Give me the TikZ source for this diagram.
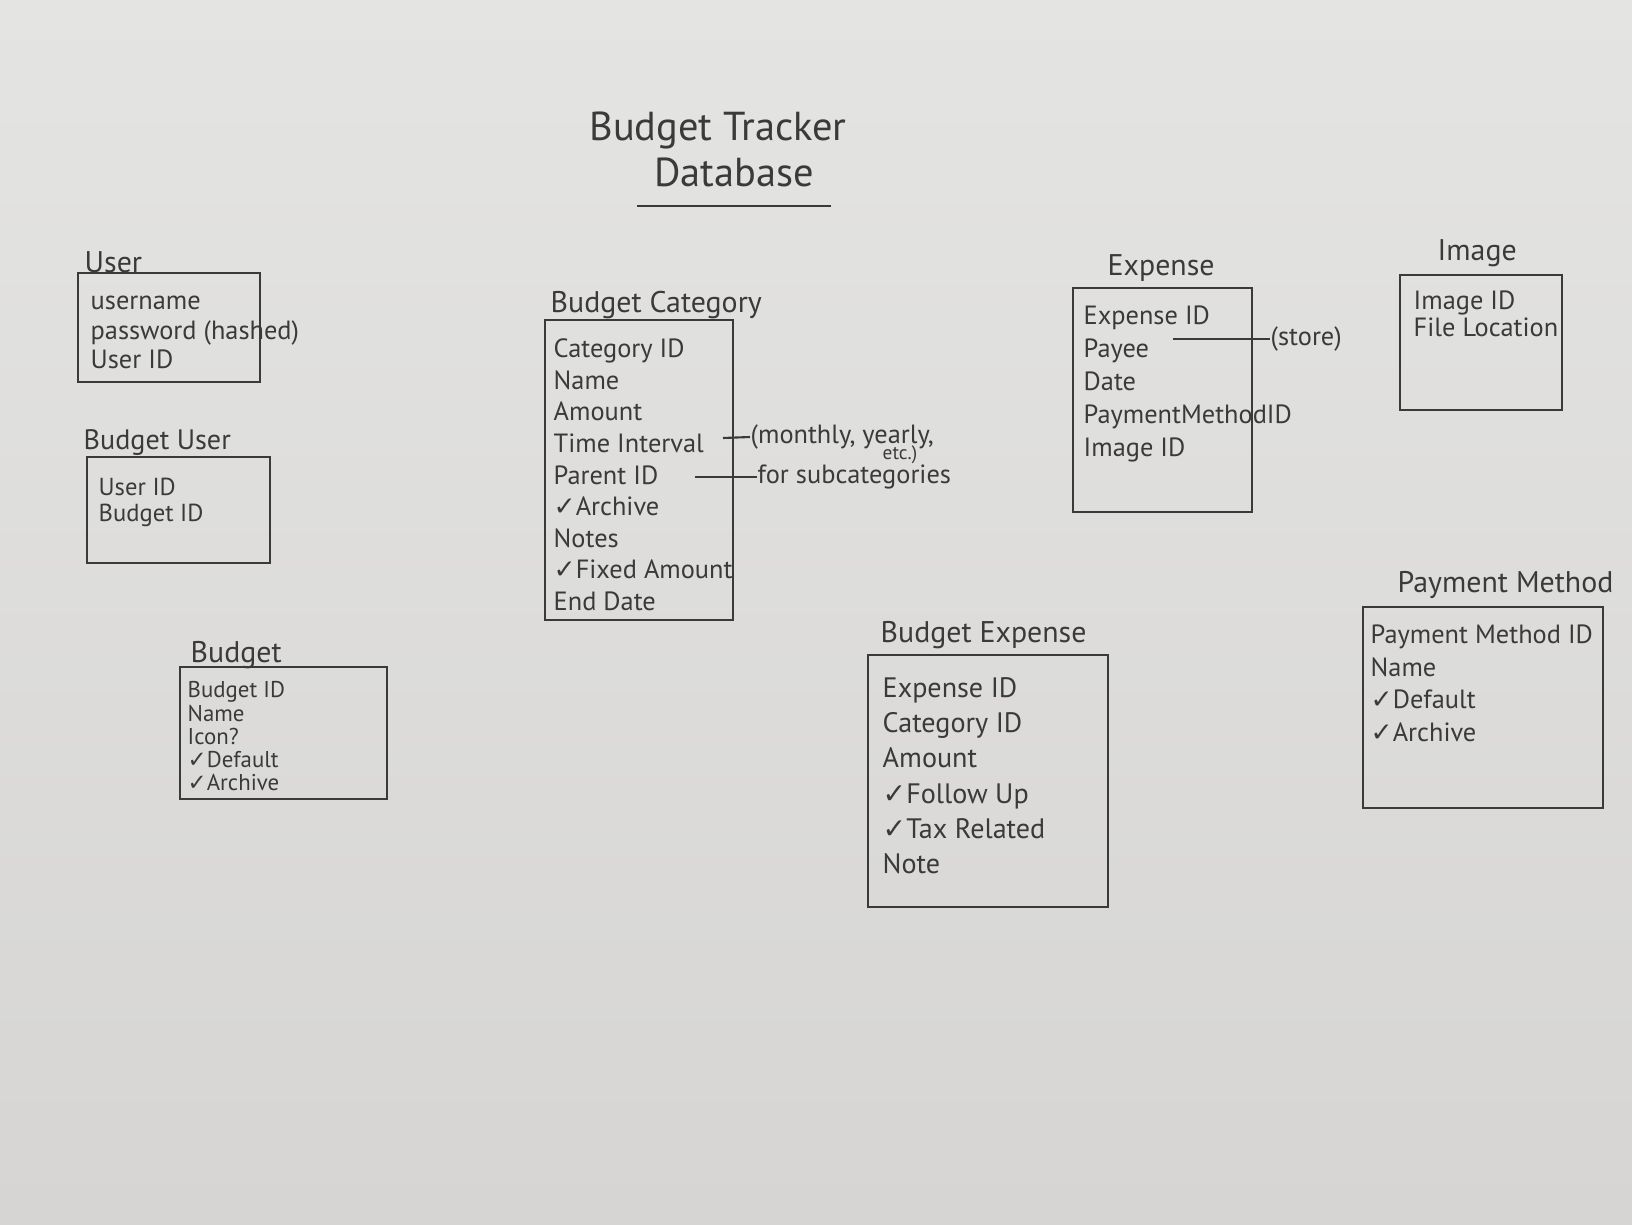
\documentclass[tikz,border=0pt]{standalone}
\usepackage{fontspec}
\setmainfont{PT Sans}
\newfontfamily\tickfont{DejaVu Sans}
\newcommand{\chk}{{\tickfont ✓}}
\definecolor{pencil}{RGB}{58,58,58}
\definecolor{papertop}{RGB}{228,228,226}
\definecolor{paperbot}{RGB}{214,213,211}
\tikzset{
  tbl/.style={draw=pencil, line width=0.8pt, inner sep=0pt},
  ttl/.style={anchor=west, inner sep=0pt, text=pencil, font=\fontsize{8.5}{10}\selectfont},
  attrs/.style={anchor=north west, inner sep=0pt, align=left, text=pencil},
  note/.style={anchor=west, inner sep=0pt, text=pencil, font=\fontsize{7.5}{9}\selectfont},
}
\begin{document}
\begin{tikzpicture}
  % Papier
  \shade[top color=papertop, bottom color=paperbot] (0,0) rectangle (16.32,-12.24);
  \useasboundingbox (0,0) rectangle (16.32,-12.24);
  % Titel
  \node[text=pencil, font=\fontsize{11.5}{13}\selectfont] (title) at (7.18,-1.30) {Budget Tracker};
  \node[text=pencil, font=\fontsize{11.5}{13}\selectfont] (title2) at (7.34,-1.72) {Database};
  \draw[pencil, line width=0.8pt] (6.37,-2.06) -- (8.31,-2.06);
  % User
  \node[tbl, minimum width=1.82cm, minimum height=1.09cm] (user) at (1.69,-3.275) {};
  \node[ttl] (usertitle) at (0.84,-2.62) {User};
  \node[attrs, font=\fontsize{7.5}{8.5}\selectfont] (userlist) at (0.90,-2.95)
    {username\\password (hashed)\\User ID};
  % Budget User
  \node[tbl, minimum width=1.83cm, minimum height=1.06cm] (budgetuser) at (1.785,-5.10) {};
  \node[ttl, font=\fontsize{8}{10}\selectfont] (budgetusertitle) at (0.83,-4.43) {Budget User};
  \node[attrs, font=\fontsize{7}{7.4}\selectfont] (budgetuserlist) at (0.98,-4.77)
    {User ID\\Budget ID};
  % Budget
  \node[tbl, minimum width=2.07cm, minimum height=1.32cm] (budget) at (2.835,-7.33) {};
  \node[ttl] (budgettitle) at (1.90,-6.55) {Budget};
  \node[attrs, font=\fontsize{6.5}{6.6}\selectfont] (budgetlist) at (1.87,-6.81)
    {Budget ID\\Name\\Icon?\\\chk Default\\\chk Archive};
  % Budget Category
  \node[tbl, minimum width=1.88cm, minimum height=3.00cm] (category) at (6.39,-4.70) {};
  \node[ttl] (categorytitle) at (5.50,-3.05) {Budget Category};
  \node[attrs, font=\fontsize{7.5}{9}\selectfont] (categorylist) at (5.53,-3.38)
    {Category ID\\Name\\Amount\\Time Interval\\Parent ID\\\chk Archive\\Notes\\\chk Fixed Amount\\End Date};
  \coordinate (interval) at (7.23,-4.38);
  \coordinate (parent) at (6.95,-4.77);
  \node[note] (monthly) at (7.50,-4.37) {(monthly, yearly,};
  \node[note, font=\fontsize{5.5}{6}\selectfont] (etc) at (8.82,-4.55) {etc.)};
  \node[note] (subcat) at (7.57,-4.77) {for subcategories};
  \draw[pencil, line width=0.6pt] (interval) -- (monthly.west);
  \draw[pencil, line width=0.6pt] (parent) -- (subcat.west);
  % Expense
  \node[tbl, minimum width=1.79cm, minimum height=2.24cm] (expense) at (11.625,-4.00) {};
  \node[ttl] (expensetitle) at (11.07,-2.68) {Expense};
  \node[attrs, font=\fontsize{7.5}{9.4}\selectfont] (expenselist) at (10.83,-3.05)
    {Expense ID\\Payee\\Date\\PaymentMethodID\\Image ID};
  \coordinate (payee) at (11.73,-3.39);
  \node[note] (store) at (12.70,-3.39) {(store)};
  \draw[pencil, line width=0.6pt] (payee) -- (store.west);
  % Image
  \node[tbl, minimum width=1.62cm, minimum height=1.35cm] (image) at (14.81,-3.425) {};
  \node[ttl] (imagetitle) at (14.37,-2.53) {Image};
  \node[attrs, font=\fontsize{7.5}{7.7}\selectfont] (imagelist) at (14.13,-2.90)
    {Image ID\\File Location};
  % Budget Expense
  \node[tbl, minimum width=2.40cm, minimum height=2.52cm] (budgetexpense) at (9.88,-7.81) {};
  \node[ttl] (budgetexpensetitle) at (8.80,-6.35) {Budget Expense};
  \node[attrs, font=\fontsize{8}{10}\selectfont] (budgetexpenselist) at (8.82,-6.77)
    {Expense ID\\Category ID\\Amount\\\chk Follow Up\\\chk Tax Related\\Note};
  % Payment Method
  \node[tbl, minimum width=2.40cm, minimum height=2.01cm] (payment) at (14.83,-7.075) {};
  \node[ttl] (paymenttitle) at (13.97,-5.85) {Payment Method};
  \node[attrs, font=\fontsize{7.5}{9.3}\selectfont] (paymentlist) at (13.70,-6.24)
    {Payment Method ID\\Name\\\chk Default\\\chk Archive};
\end{tikzpicture}
\end{document}
